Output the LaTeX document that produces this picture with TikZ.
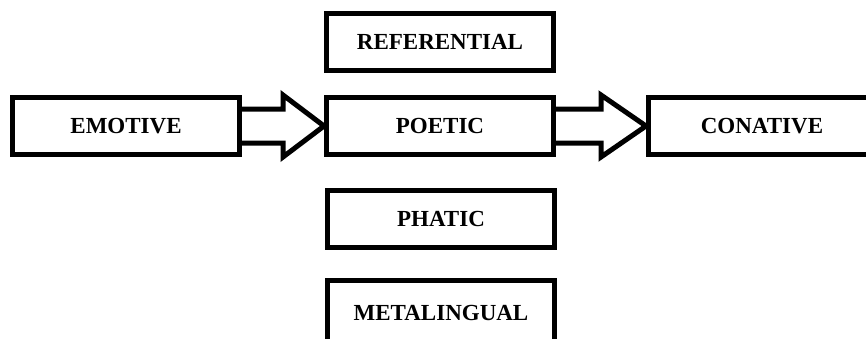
\documentclass[tikz,border=0pt]{standalone}
\usepackage{fontspec}
\setmainfont{Liberation Serif}
\usetikzlibrary{calc}

\tikzset{
  fnbox/.style={draw=black, line width=5pt, fill=white, inner sep=0pt,
    minimum width=227pt, minimum height=57pt,
    font=\fontsize{23}{23}\selectfont\bfseries},
  blockarrow/.style={draw=black, line width=5pt, miter limit=10}
}

% Draws a hollow block arrow between the facing sides of two nodes
\newcommand{\hollowarrow}[2]{%
  \draw[blockarrow]
    ($(#1.east)+(0,-17)$)
    -- ($($(#1.east)!0.5!(#2.west)$)+(0,-17)$)
    -- ($($(#1.east)!0.5!(#2.west)$)+(0,-31)$)
    -- (#2.west)
    -- ($($(#1.east)!0.5!(#2.west)$)+(0,31)$)
    -- ($($(#1.east)!0.5!(#2.west)$)+(0,17)$)
    -- ($(#1.east)+(0,17)$);
}

\begin{document}
\begin{tikzpicture}[x=1pt,y=-1pt]
  \useasboundingbox (0,0) rectangle (866,338);
  \clip (0,0) rectangle (866,338);
  \fill[white] (0,0) rectangle (866,338);

  \node[fnbox] (emotive)     at (126,126)  {EMOTIVE};
  \node[fnbox] (referential) at (440,41.5) {REFERENTIAL};
  \node[fnbox] (poetic)      at (440,126)  {POETIC};
  \node[fnbox] (conative)    at (762,126)  {CONATIVE};
  \node[fnbox] (phatic)      at (441,219)  {PHATIC};
  \node[fnbox, minimum height=64pt] (metalingual) at (441,312.5) {METALINGUAL};

  \hollowarrow{emotive}{poetic}
  \hollowarrow{poetic}{conative}
\end{tikzpicture}
\end{document}
